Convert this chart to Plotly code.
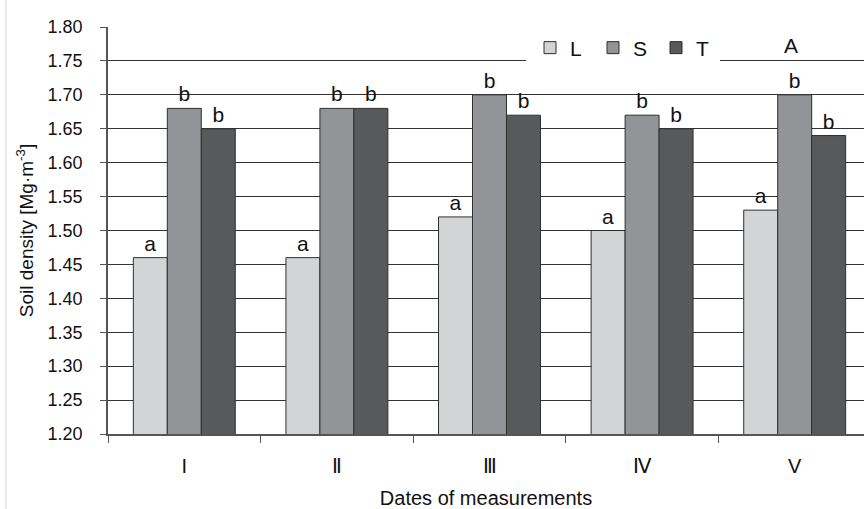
import plotly.graph_objects as go

# Measurement dates and soil density per treatment
dates = ["I", "Ⅱ", "Ⅲ", "Ⅳ", "V"]
dens_L = [1.46, 1.46, 1.52, 1.50, 1.53]
dens_S = [1.68, 1.68, 1.70, 1.67, 1.70]
dens_T = [1.65, 1.68, 1.67, 1.65, 1.64]
grp_L = ["a", "a", "a", "a", "a"]
grp_S = ["b", "b", "b", "b", "b"]
grp_T = ["b", "b", "b", "b", "b"]

W, H = 864, 509
L_M, R_M, T_M, B_M = 108, 0, 27, 75
plot_w = W - L_M - R_M
plot_h = H - T_M - B_M
cat_px = 152.6  # width of one date group


def px_x(x):
    return (x - L_M) / plot_w


def px_y(y):
    return (H - B_M - y) / plot_h


FONT = "Liberation Sans, Arial, sans-serif"
series = [
    ("L", dens_L, grp_L, "#d3d4d6"),
    ("S", dens_S, grp_S, "#939497"),
    ("T", dens_T, grp_T, "#58595b"),
]

fig = go.Figure()
for name, vals, grp, col in series:
    fig.add_trace(go.Bar(
        x=dates, y=vals, name=name,
        marker=dict(color=col, line=dict(color="#2f2f2f", width=1)),
        text=grp, textposition="outside", constraintext="none",
        textfont=dict(family=FONT, size=21, color="#111"),
        cliponaxis=False,
    ))

fig.update_layout(
    width=W, height=H,
    margin=dict(l=L_M, r=R_M, t=T_M, b=B_M),
    paper_bgcolor="white", plot_bgcolor="white",
    barmode="group", bargap=0.332, bargroupgap=0,
    font=dict(family=FONT, size=18, color="#111"),
    showlegend=True,
    legend=dict(
        orientation="h", x=px_x(530), xanchor="left",
        y=px_y(48), yanchor="middle",
        bgcolor="rgba(0,0,0,0)", borderwidth=0,
        font=dict(family=FONT, size=21, color="#111"),
        entrywidth=18, entrywidthmode="pixels",
        traceorder="normal",
    ),
    xaxis=dict(
        range=[-0.5, -0.5 + plot_w / cat_px],
        showline=True, linecolor="#555", linewidth=1.5,
        ticks="outside", tickson="boundaries", ticklen=7,
        tickcolor="#555", tickwidth=1,
        showgrid=False, ticklabelstandoff=13,
        tickfont=dict(family=FONT, size=20, color="#111"),
        title=dict(text="Dates of measurements", standoff=15,
                   font=dict(family=FONT, size=20, color="#111")),
    ),
    yaxis=dict(
        range=[1.2, 1.8], dtick=0.05, tickformat=".2f",
        showline=True, linecolor="#555", linewidth=1.5,
        ticks="outside", ticklen=6, tickcolor="#555",
        showgrid=True, gridcolor="#333", gridwidth=1,
        zeroline=False, ticklabelstandoff=14,
        tickfont=dict(family=FONT, size=18, color="#111"),
        title=dict(text="Soil density [Mg·m<sup>-3</sup>]", standoff=9,
                   font=dict(family=FONT, size=19, color="#111")),
    ),
    shapes=[
        # white backing behind the legend row
        dict(type="rect", xref="paper", yref="paper",
             x0=px_x(526), x1=px_x(720), y0=px_y(66), y1=px_y(34),
             fillcolor="white", line=dict(width=0), layer="above"),
        # faint frame line at the left edge
        dict(type="line", xref="paper", yref="paper",
             x0=px_x(6), x1=px_x(6), y0=px_y(509), y1=px_y(0),
             line=dict(color="#d4d4d4", width=1)),
    ],
    annotations=[
        dict(text="A", xref="paper", yref="paper",
             x=px_x(791), y=px_y(45), xanchor="center", yanchor="middle",
             showarrow=False,
             font=dict(family=FONT, size=21, color="#111")),
    ],
)

fig.write_html("out.html")
